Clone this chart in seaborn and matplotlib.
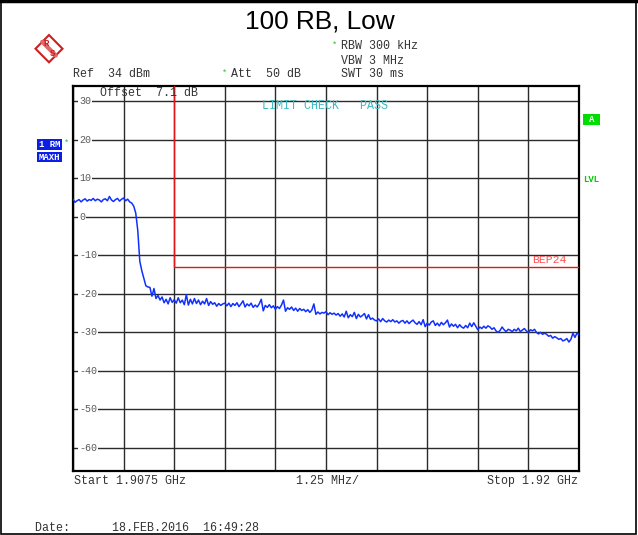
import numpy as np
import matplotlib
matplotlib.use('Agg')
import matplotlib.pyplot as plt
import seaborn as sns
from matplotlib.patches import Rectangle, Polygon
from matplotlib.lines import Line2D

# sweep settings (MHz / dBm)
start_mhz = 1907.5
stop_mhz = 1920.0
ref_level = 34
bottom_level = -66

# max-hold trace, 0.05 MHz per point
trace_dbm = [
    4.6, 3.8, 4.2, 4.5, 3.9, 4.4, 4.7, 4.1, 4.5, 4.3,
    4.8, 4.2, 4.6, 4.4, 3.9, 4.5, 4.7, 4.2, 5.3, 4.4,
    4.0, 4.5, 4.8, 4.1, 4.6, 4.9, 4.2, 4.6, 3.9, 3.6,
    2.8, 1.0, -3.5, -11.5, -14.0, -16.0, -17.9, -18.2, -18.3, -20.6,
    -18.6, -21.2, -20.4, -21.6, -20.8, -22.3, -21.4, -22.6, -21.0, -22.2,
    -21.5, -22.4, -21.0, -22.3, -21.6, -22.8, -20.2, -22.9, -21.4, -22.6,
    -21.2, -22.5, -21.6, -22.8, -21.9, -22.6, -21.2, -23.0, -22.0, -22.7,
    -22.3, -23.2, -22.5, -23.0, -22.6, -22.4, -23.1, -22.4, -23.3, -22.5,
    -23.0, -22.3, -23.3, -22.6, -21.8, -23.4, -22.6, -23.1, -22.4, -23.5,
    -22.9, -23.4, -22.6, -21.4, -24.4, -23.0, -23.5, -22.8, -23.6, -23.1,
    -24.0, -23.3, -23.8, -22.9, -21.6, -24.5, -23.6, -24.0, -23.4, -24.3,
    -23.7, -24.5, -23.8, -24.3, -24.0, -24.6, -24.1, -24.8, -24.2, -22.6,
    -25.3, -24.7, -25.2, -24.8, -25.0, -24.6, -25.4, -24.9, -25.3, -25.0,
    -25.5, -25.1, -25.8, -25.2, -26.0, -24.5, -26.2, -25.4, -25.9, -24.8,
    -26.4, -25.3, -26.0, -25.6, -25.1, -26.5, -25.4, -26.6, -26.3, -26.8,
    -27.0, -26.5, -27.2, -26.4, -27.0, -27.3, -26.8, -27.2, -26.7, -27.3,
    -27.0, -27.6, -27.1, -26.9, -27.6, -27.0, -27.7, -27.2, -26.8, -27.5,
    -27.9, -27.2, -28.0, -26.7, -28.5, -27.6, -28.1, -27.3, -27.0, -28.2,
    -27.6, -28.3, -27.4, -28.0, -27.5, -26.8, -28.6, -27.8, -28.4, -27.9,
    -28.8, -28.0, -28.6, -28.9, -28.2, -28.8, -27.6, -28.5, -27.5, -28.4,
    -29.3, -28.6, -29.0, -28.4, -28.9, -28.3, -28.6, -29.2, -28.8, -29.6,
    -30.0, -29.5, -28.6, -29.3, -29.8, -29.2, -29.4, -29.8, -29.2, -29.6,
    -28.9, -29.8, -29.4, -29.0, -29.6, -30.1, -29.3, -29.6, -29.2, -30.0,
    -30.4, -30.0, -30.5, -30.2, -30.5, -31.0, -30.8, -31.5, -31.1, -31.4,
    -31.8, -31.6, -32.2, -32.0, -31.6, -32.5, -31.8, -30.2, -31.3, -30.2,
    -30.6,
]

# limit line BEP24
limit_freq = [1910.0, 1910.0, 1920.0]
limit_dbm = [34.0, -13.0, -13.0]

level_ticks = [30, 20, 10, 0, -10, -20, -30, -40, -50, -60]

freq = np.linspace(start_mhz, stop_mhz, len(trace_dbm))

W, H = 638, 535
sns.set_style('white')
plt.rcParams['font.family'] = ['Liberation Mono', 'DejaVu Sans Mono']

fig = plt.figure(figsize=(W / 100, H / 100), dpi=100)
ax = fig.add_axes([73 / W, 1 - 471 / H, 506 / W, 385 / H])

sns.lineplot(x=freq, y=trace_dbm, ax=ax, color='#1030ff', lw=1.1,
             estimator=None, sort=False, zorder=4)
sns.lineplot(x=limit_freq, y=limit_dbm, ax=ax, color='#e01818', lw=1.0,
             estimator=None, sort=False, zorder=3)

ax.set_xlim(start_mhz, stop_mhz)
ax.set_ylim(bottom_level, ref_level)
ax.set_xticks(np.linspace(start_mhz, stop_mhz, 11))
ax.set_yticks(level_ticks)
ax.tick_params(length=0, labelleft=False, labelbottom=False)
ax.set_xlabel('')
ax.set_ylabel('')
ax.set_axisbelow(True)
ax.grid(True, color='#2b2b2b', lw=1.0)
for s in ax.spines.values():
    s.set_visible(True)
    s.set_color('black')
    s.set_linewidth(1.6)

for v in level_ticks:
    ax.text(6 / 506, v, str(v), transform=ax.get_yaxis_transform(),
            ha='left', va='center', fontsize=7.2, color='#5a5a5a',
            bbox=dict(facecolor='white', edgecolor='none', pad=0.6), zorder=5)


def put(px, py, s, size=8.4, color='#333333', ha='left', **kw):
    fig.text(px / W, 1 - py / H, s, fontsize=size, color=color, ha=ha,
             va='center', **kw)


def box(x0, y0, x1, y1, color):
    fig.patches.append(Rectangle((x0 / W, 1 - y1 / H), (x1 - x0) / W, (y1 - y0) / H,
                                 transform=fig.transFigure, facecolor=color,
                                 edgecolor='none'))


# title
fig.text(320 / W, 1 - 21 / H, '100 RB, Low', fontsize=18.9, ha='center',
         va='center', family='Liberation Sans', color='black')

# header
put(341, 46, 'RBW 300 kHz')
put(341, 61, 'VBW 3 MHz')
put(341, 74, 'SWT 30 ms')
put(73, 74, 'Ref  34 dBm')
put(231, 74, 'Att  50 dB')
put(335, 45, '*', size=6.5, color='#22cc22', ha='center')
put(225, 73, '*', size=6.5, color='#22cc22', ha='center')
put(100, 93, 'Offset  7.1 dB')
put(262, 106, 'LIMIT CHECK   PASS', color='#40b8c0')
put(532, 260, 'BEP24', size=8.2, color='#ff5050')

# side labels
box(583, 114, 600, 125, '#00dd00')
put(591.5, 119.5, 'A', size=6.5, color='white', ha='center', weight='bold')
put(583, 179, 'LVL', size=6.5, color='#00cc00', weight='bold')
box(37, 139, 62, 150, '#0a1ee8')
put(49.5, 144.5, '1 RM', size=6.5, color='white', ha='center', weight='bold')
box(37, 152, 62, 162, '#0a1ee8')
put(49.5, 157, 'MAXH', size=6.5, color='white', ha='center', weight='bold')
put(67, 143, '*', size=6.5, color='#22cc22', ha='center')

# footer
put(74, 481, 'Start 1.9075 GHz')
put(296, 481, '1.25 MHz/')
put(578, 481, 'Stop 1.92 GHz', ha='right')
put(35, 528, 'Date:      18.FEB.2016  16:49:28')

# R&S logo
def fp(px, py):
    return (px / W, 1 - py / H)

fig.patches.append(Polygon([fp(49, 35), fp(62.5, 48.7), fp(49, 62.3), fp(35.5, 48.7)],
                           closed=True, transform=fig.transFigure, facecolor='white',
                           edgecolor='#cc2020', lw=1.5))
a, b = fp(42.2, 41.8), fp(55.8, 55.5)
fig.lines.append(Line2D([a[0], b[0]], [a[1], b[1]], transform=fig.transFigure,
                        color='#e06868', lw=3))
put(45.7, 44, 'R', size=6.5, color='#cc2020', ha='center', weight='bold')
put(52.3, 53.3, 'S', size=6.5, color='#cc2020', ha='center', weight='bold')

# page border
fig.patches.append(Rectangle((1 / W, 1.5 / H), 635 / W, 532 / H, transform=fig.transFigure,
                             fill=False, edgecolor='black', lw=1.2))
fig.lines.append(Line2D([0, 1], [1 - 1 / H, 1 - 1 / H], transform=fig.transFigure,
                        color='black', lw=2.5))

fig.savefig('out.png', dpi=100)
